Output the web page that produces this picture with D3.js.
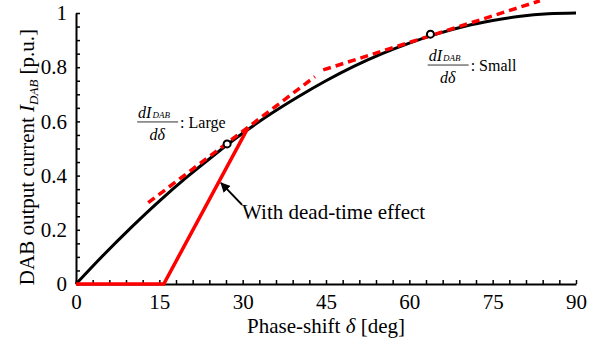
<!DOCTYPE html>
<html>
<head>
<meta charset="utf-8">
<style>
    body { margin: 0; background: #fff; }
    svg { display: block; font-family: 'Liberation Serif', 'Times New Roman', serif; }
    .axis text { font-size: 21px; fill: #000; }
    .axis .domain { stroke: #000; stroke-width: 2px; }
    .minor .tick line { stroke: #000; stroke-width: 1.5px; }
    .title { font-size: 21px; }
    .note { font-size: 16px; }
</style>
</head>
<body>
<svg width="611" height="345"></svg>

<script src="https://d3js.org/d3.v7.min.js"></script>
<script>
    // phase-shift (deg) and output current (p.u.)
    let phaseDeg = [0, 5, 10, 15, 20, 25, 30, 35, 40, 45, 50, 55, 60, 65, 70, 75, 80, 85, 90];
    let currentPu = [0, 0.108, 0.21, 0.306, 0.395, 0.478, 0.556, 0.627, 0.691, 0.75, 0.803, 0.849, 0.889, 0.923, 0.951, 0.972, 0.988, 0.997, 1];

    // with dead-time effect
    let deadPhase = [0, 15.8, 31];
    let deadCurrent = [0, 0, 0.578];

    // tangent lines (dashed)
    let tangentLarge = [[13, 0.30], [43, 0.765]];
    let tangentSmall = [[44.5, 0.79], [83.5, 1.045]];

    // operating points
    let markPhase = [27.2, 63.8];
    let markCurrent = [0.517, 0.922];

    let xTicks = [0, 15, 30, 45, 60, 75, 90];
    let yTicks = [0, 0.2, 0.4, 0.6, 0.8, 1];
    let yTickLabels = ["0", "0.2", "0.4", "0.6", "0.8", "1"];

    // slope labels: where the fraction bar starts
    let slopeLabels = [
        { x: 11, y: 0.598, word: "Large" },
        { x: 63.3, y: 0.808, word: "Small" }
    ];

    let svg = d3.select("svg");

    let x = d3.scaleLinear().domain([0, 90]).range([76, 576]);
    let y = d3.scaleLinear().domain([0, 1]).range([284, 13]);

    // minor ticks, pointing inward
    svg.append("g")
        .attr("class", "minor")
        .attr("transform", "translate(0,284)")
        .call(d3.axisBottom(x).tickValues(d3.range(0, 91, 3)).tickSize(-4).tickSizeOuter(0).tickFormat(""))
        .call(g => g.select(".domain").remove());

    svg.append("g")
        .attr("class", "minor")
        .attr("transform", "translate(76,0)")
        .call(d3.axisLeft(y).tickValues(d3.range(0, 1.001, 0.05)).tickSize(-4).tickSizeOuter(0).tickFormat(""))
        .call(g => g.select(".domain").remove());

    // main axes with labels
    svg.append("g")
        .attr("class", "x axis")
        .attr("transform", "translate(0,284)")
        .call(d3.axisBottom(x).tickValues(xTicks).tickSize(0).tickSizeOuter(0).tickPadding(10))
        .attr("font-family", null);

    svg.append("g")
        .attr("class", "y axis")
        .attr("transform", "translate(76,0)")
        .call(d3.axisLeft(y).tickValues(yTicks).tickSize(0).tickSizeOuter(0).tickPadding(9)
            .tickFormat((d, i) => yTickLabels[i]))
        .attr("font-family", null);

    // black curve
    let line = d3.line()
        .x(d => x(d[0]))
        .y(d => y(d[1]))
        .curve(d3.curveMonotoneX);

    svg.append("path")
        .datum(phaseDeg.map((p, i) => [p, currentPu[i]]))
        .attr("d", line)
        .attr("fill", "none")
        .attr("stroke", "#000")
        .attr("stroke-width", 3);

    // tangents
    let straight = d3.line().x(d => x(d[0])).y(d => y(d[1]));

    svg.selectAll(".tangent")
        .data([tangentLarge, tangentSmall])
        .join("path")
        .attr("class", "tangent")
        .attr("d", straight)
        .attr("fill", "none")
        .attr("stroke", "#ff0000")
        .attr("stroke-width", 3.5)
        .attr("stroke-dasharray", "8,5");

    // dead-time curve
    svg.append("path")
        .datum(deadPhase.map((p, i) => [p, deadCurrent[i]]))
        .attr("d", straight)
        .attr("fill", "none")
        .attr("stroke", "#ff0000")
        .attr("stroke-width", 3.5)
        .attr("stroke-linejoin", "miter");

    // operating points
    svg.selectAll(".mark")
        .data(markPhase)
        .join("circle")
        .attr("class", "mark")
        .attr("cx", d => x(d))
        .attr("cy", (d, i) => y(markCurrent[i]))
        .attr("r", 3.5)
        .attr("fill", "#fff")
        .attr("stroke", "#000")
        .attr("stroke-width", 2);

    // arrow + note
    svg.append("defs").append("marker")
        .attr("id", "head")
        .attr("viewBox", "0 0 10 10")
        .attr("refX", 9)
        .attr("refY", 5)
        .attr("markerWidth", 5)
        .attr("markerHeight", 5)
        .attr("markerUnits", "strokeWidth")
        .attr("orient", "auto")
        .append("path")
        .attr("d", "M0,0 L10,5 L0,10 z")
        .attr("fill", "#000");

    svg.append("line")
        .attr("x1", x(29.9)).attr("y1", y(0.292))
        .attr("x2", x(26.1)).attr("y2", y(0.373))
        .attr("stroke", "#000")
        .attr("stroke-width", 2)
        .attr("marker-end", "url(#head)");

    svg.append("text")
        .attr("class", "title")
        .attr("x", x(29.9))
        .attr("y", y(0.24))
        .text("With dead-time effect");

    // slope labels: dI_DAB / dδ : word
    slopeLabels.forEach(l => {
        let bx = x(l.x), by = y(l.y);
        let g = svg.append("g").attr("class", "note");

        let num = g.append("text")
            .attr("x", bx + 1)
            .attr("y", by - 4)
            .attr("font-style", "italic");
        num.append("tspan").text("dI");
        num.append("tspan").attr("font-size", "9px").attr("dx", 1).text("DAB");

        g.append("line")
            .attr("x1", bx).attr("x2", bx + 41)
            .attr("y1", by).attr("y2", by)
            .attr("stroke", "#333")
            .attr("stroke-width", 1);

        g.append("text")
            .attr("x", bx + 20)
            .attr("y", by + 18)
            .attr("text-anchor", "middle")
            .attr("font-style", "italic")
            .text("dδ");

        g.append("text")
            .attr("x", bx + 43)
            .attr("y", by + 6)
            .text(": " + l.word);
    });

    // axis titles
    let xt = svg.append("text")
        .attr("class", "title")
        .attr("x", x(45))
        .attr("y", 333)
        .attr("text-anchor", "middle");
    xt.append("tspan").text("Phase-shift ");
    xt.append("tspan").attr("font-style", "italic").text("δ");
    xt.append("tspan").text(" [deg]");

    let yt = svg.append("text")
        .attr("class", "title")
        .attr("transform", "translate(34,157) rotate(-90)")
        .attr("text-anchor", "middle");
    yt.append("tspan").text("DAB output current ");
    yt.append("tspan").attr("font-style", "italic").text("I");
    yt.append("tspan").attr("font-style", "italic").attr("font-size", "13px").attr("dy", 4).text("DAB");
    yt.append("tspan").attr("dy", -4).text(" [p.u.]");
</script>
</body>
</html>
